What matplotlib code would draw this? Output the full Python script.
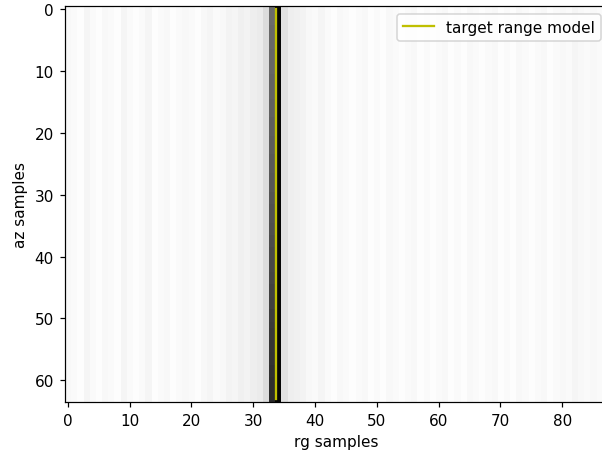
import numpy as np
import matplotlib
matplotlib.use("Agg")
import matplotlib.pyplot as plt

# Per-column brightness (0 = black, 1 = white), range samples 0..87
col_brightness = [
    0.97, 0.98, 0.99, 0.96, 0.98, 0.99, 0.97, 0.98, 0.99, 0.96,
    0.98, 0.99, 0.98, 0.96, 0.99, 0.98, 0.97, 0.99, 0.98, 0.97,
    0.98, 0.99, 0.97, 0.96, 0.98, 0.97, 0.95, 0.96, 0.94, 0.95,
    0.93, 0.92, 0.86, 0.40, 0.02, 0.88, 0.93, 0.94, 0.95, 0.97,
    0.98, 0.96, 0.98, 0.99, 0.97, 0.98, 0.99, 0.98, 0.97, 0.99,
    0.98, 0.99, 0.97, 0.98, 0.99, 0.98, 0.97, 0.99, 0.98, 0.99,
    0.98, 0.97, 0.99, 0.98, 0.99, 0.97, 0.98, 0.99, 0.98, 0.97,
    0.99, 0.98, 0.99, 0.97, 0.98, 0.99, 0.98, 0.97, 0.99, 0.98,
    0.97, 0.98, 0.96, 0.97, 0.98, 0.97, 0.98, 0.97,
]

# Brightness of range column 33 for each azimuth row 0..63 (darkens downward)
col33_rows = [
    0.42, 0.42, 0.42, 0.41, 0.41, 0.41, 0.41, 0.40, 0.40, 0.40,
    0.40, 0.39, 0.39, 0.39, 0.39, 0.38, 0.38, 0.38, 0.37, 0.37,
    0.37, 0.36, 0.36, 0.36, 0.35, 0.35, 0.35, 0.34, 0.34, 0.34,
    0.33, 0.33, 0.32, 0.32, 0.32, 0.31, 0.31, 0.30, 0.30, 0.29,
    0.29, 0.28, 0.28, 0.27, 0.27, 0.26, 0.26, 0.25, 0.25, 0.24,
    0.24, 0.23, 0.22, 0.22, 0.21, 0.21, 0.20, 0.20, 0.19, 0.19,
    0.18, 0.18, 0.17, 0.17,
]

n_az = 64
target_range = [33.62, 33.62]
target_az = [0, 63]

img = np.tile(np.array(col_brightness), (n_az, 1))
img[:, 33] = np.array(col33_rows)

DPI = 110
fig = plt.figure(figsize=(602 / DPI, 454 / DPI), dpi=DPI)
ax = fig.add_axes([64.6 / 602, 51 / 454, 544 / 602, 396 / 454])
ax.imshow(img, cmap="gray", vmin=0, vmax=1, aspect="auto",
          interpolation="nearest")
ax.plot(target_range, target_az, color="#bfbf00", lw=1.5,
        label="target range model")
ax.set_xlim(-0.5, len(col_brightness) - 0.5)
ax.set_ylim(n_az - 0.5, -0.5)
ax.set_xticks(np.arange(0, 81, 10))
ax.set_yticks(np.arange(0, 61, 10))
ax.set_xlabel("rg samples")
ax.set_ylabel("az samples")
ax.legend(loc="upper right")
fig.savefig("out.png", dpi=DPI)
